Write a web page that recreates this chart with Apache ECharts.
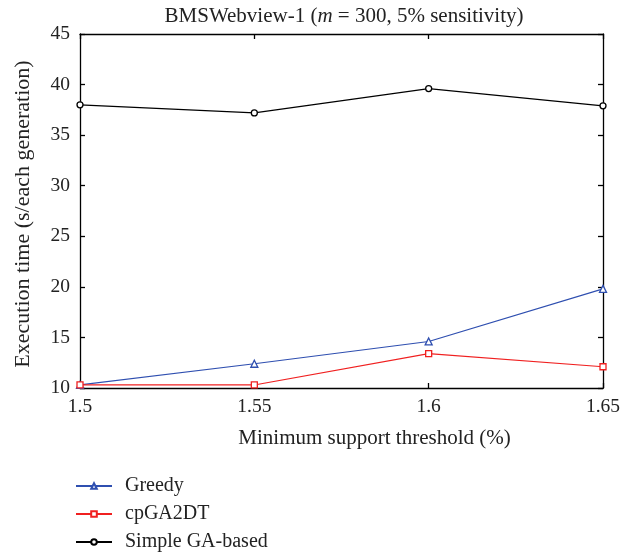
<!DOCTYPE html>
<html>
<head>
<meta charset="utf-8">
<script src="https://cdn.jsdelivr.net/npm/echarts@6/dist/echarts.min.js"></script>
<style>html,body{margin:0;padding:0;background:#fff}#c{width:621px;height:552px}</style>
</head>
<body>
<div id="c"></div>
<script>
// Minimum support thresholds (%) on the x axis
const thresholds = [1.5, 1.55, 1.6, 1.65];
// Execution time (s per generation) for each method
const greedy = [10.3, 12.4, 14.6, 19.8];
const cpGA2DT = [10.3, 10.3, 13.4, 12.1];
const simpleGA = [38.0, 37.2, 39.6, 37.9];
const xTicks = [1.5, 1.55, 1.6, 1.65];

const FONT = '"Liberation Serif", "DejaVu Serif", serif';
const pair = arr => thresholds.map((t, i) => [t, arr[i]]);

const chart = echarts.init(document.getElementById('c'));
const frameAxisCommon = {
  axisLine: { show: true, onZero: false, lineStyle: { color: '#000', width: 1.3 } },
  axisTick: { show: true, inside: true, length: 5, lineStyle: { color: '#000', width: 1.3 } },
  splitLine: { show: false }
};
chart.setOption({
  backgroundColor: '#fff',
  animation: false,
  title: {
    text: 'BMSWebview-1 ({i|m} = 300, 5% sensitivity)',
    left: 344, top: 6, textAlign: 'center', padding: 0,
    textStyle: {
      fontFamily: FONT, fontSize: 21, fontWeight: 'normal', color: '#222',
      rich: { i: { fontFamily: FONT, fontSize: 21, fontStyle: 'italic', color: '#222' } }
    }
  },
  grid: { left: 80, right: 18, top: 34, bottom: 164, outerBoundsMode: 'none', containLabel: false },
  legend: {
    orient: 'vertical', left: 75, top: 476, padding: 0, itemGap: 8, itemWidth: 36, itemHeight: 7,
    textStyle: { fontFamily: FONT, fontSize: 20, lineHeight: 20, color: '#222', padding: [0, 0, 0, 8] },
    data: ['Greedy', 'cpGA2DT', 'Simple GA-based']
  },
  xAxis: [
    Object.assign({
      type: 'value', min: 1.5, max: 1.65, interval: 0.05, position: 'bottom',
      name: 'Minimum support threshold (%)', nameLocation: 'middle', nameGap: 40,
      nameTextStyle: { fontFamily: FONT, fontSize: 21, color: '#222', padding: [0, 0, 0, 66] },
      axisLabel: {
        fontFamily: FONT, fontSize: 19.5, color: '#222', margin: 9,
        customValues: xTicks,
        formatter: v => String(+v.toFixed(2))
      }
    }, frameAxisCommon),
    Object.assign({
      type: 'value', min: 1.5, max: 1.65, interval: 0.05, position: 'top',
      axisLabel: { show: false }
    }, frameAxisCommon)
  ],
  yAxis: [
    Object.assign({
      type: 'value', min: 10, max: 45, interval: 5, position: 'left',
      name: 'Execution time (s/each generation)', nameLocation: 'middle', nameGap: 46,
      nameTextStyle: { fontFamily: FONT, fontSize: 22, color: '#222', padding: [0, 6, 0, 0] },
      axisLabel: { fontFamily: FONT, fontSize: 19.5, color: '#222', margin: 10 }
    }, frameAxisCommon),
    Object.assign({
      type: 'value', min: 10, max: 45, interval: 5, position: 'right',
      axisLabel: { show: false }
    }, frameAxisCommon)
  ],
  series: [
    {
      name: 'Greedy', type: 'line', data: pair(greedy),
      symbol: 'triangle', symbolSize: 7, showAllSymbol: true,
      lineStyle: { color: '#2f4fb0', width: 1.2 },
      itemStyle: { color: '#fff', borderColor: '#2f4fb0', borderWidth: 1.3 }
    },
    {
      name: 'cpGA2DT', type: 'line', data: pair(cpGA2DT),
      symbol: 'rect', symbolSize: 6, showAllSymbol: true,
      lineStyle: { color: '#f02020', width: 1.2 },
      itemStyle: { color: '#fff', borderColor: '#f02020', borderWidth: 1.3 }
    },
    {
      name: 'Simple GA-based', type: 'line', data: pair(simpleGA),
      symbol: 'circle', symbolSize: 6, showAllSymbol: true,
      lineStyle: { color: '#000', width: 1.2 },
      itemStyle: { color: '#fff', borderColor: '#000', borderWidth: 1.3 }
    }
  ]
});
</script>
</body>
</html>
